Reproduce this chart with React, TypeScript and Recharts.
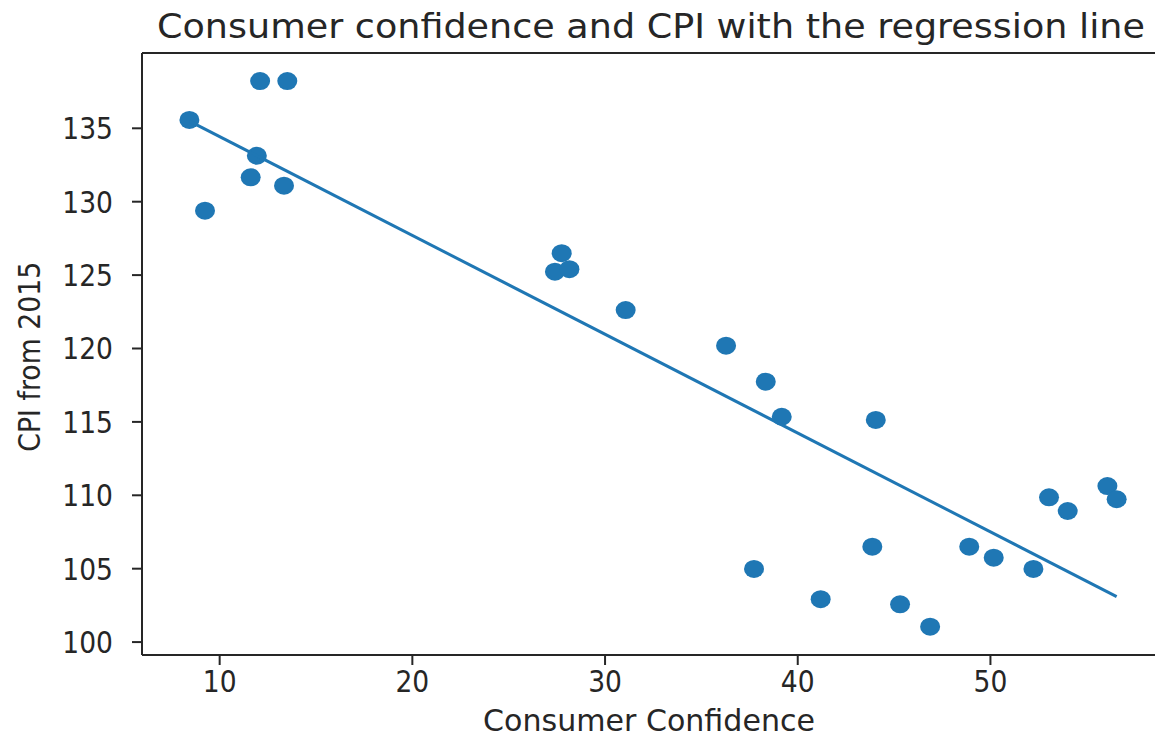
import { ScatterChart, Scatter, XAxis, YAxis, ReferenceLine } from "recharts";

const confidence = [
  8.43, 9.24, 12.1, 13.51, 11.93, 11.61, 13.34, 27.75, 27.4, 28.15, 31.07, 36.28, 38.34, 39.17,
  44.05, 53.04, 54.01, 56.07, 56.55, 43.87, 48.9, 50.17, 52.23, 37.73, 41.19, 45.31, 46.87,
];
const cpi = [
  135.57, 129.39, 138.22, 138.22, 133.13, 131.66, 131.09, 126.49, 125.23, 125.4, 122.62, 120.19,
  117.74, 115.35, 115.13, 109.86, 108.93, 110.63, 109.73, 106.5, 106.5, 105.75, 104.98, 104.98,
  102.92, 102.57, 101.05,
];

// regression line ends
const fitX = [8.43, 56.55];
const fitY = [135.49, 103.1];

const xTicks = [10, 20, 30, 40, 50];
const yTicks = [100, 105, 110, 115, 120, 125, 130, 135];

const X_DOMAIN = [5.97, 58.54];
const Y_DOMAIN = [99.12, 140.13];

const points = confidence.map((x, i) => ({ x, y: cpi[i] }));
const fitLine = fitX.map((x, i) => ({ x, y: fitY[i] }));

const BLUE = "#1f77b4";
const INK = "#262626";
const FONT = "'DejaVu Sans', sans-serif";

const Dot = (props: any) => <ellipse cx={props.cx} cy={props.cy} rx={10} ry={9} fill={BLUE} />;

const XTick = (props: any) => (
  <g transform={`translate(${props.x},${props.y + 22}) scale(0.885,1)`}>
    <text textAnchor="middle" fontSize={30} fontFamily={FONT} fill={INK}>
      {props.payload.value}
    </text>
  </g>
);

const YTick = (props: any) => (
  <g transform={`translate(${props.x},${props.y + 11}) scale(0.885,1)`}>
    <text textAnchor="end" fontSize={30} fontFamily={FONT} fill={INK}>
      {props.payload.value}
    </text>
  </g>
);

export default function App() {
  return (
    <div style={{ position: "absolute", left: 0, top: 0, width: 1155, height: 740, background: "#fff" }}>
      <ScatterChart width={1155} height={740} margin={{ top: 53, right: 0, bottom: 0, left: 0 }}>
        <XAxis
          type="number"
          dataKey="x"
          domain={X_DOMAIN}
          ticks={xTicks}
          height={85}
          tickSize={10}
          tickMargin={5}
          axisLine={{ stroke: INK, strokeWidth: 2 }}
          tickLine={{ stroke: INK, strokeWidth: 2 }}
          tick={<XTick />}
          allowDataOverflow
        />
        <YAxis
          type="number"
          dataKey="y"
          domain={Y_DOMAIN}
          ticks={yTicks}
          width={142}
          tickSize={10}
          tickMargin={19}
          axisLine={{ stroke: INK, strokeWidth: 2 }}
          tickLine={{ stroke: INK, strokeWidth: 2 }}
          tick={<YTick />}
          allowDataOverflow
        />
        {/* top spine */}
        <ReferenceLine y={Y_DOMAIN[1]} stroke={INK} strokeWidth={2} ifOverflow="visible" />
        <Scatter data={points} fill={BLUE} shape={<Dot />} isAnimationActive={false} />
        <Scatter
          data={fitLine}
          line={{ stroke: BLUE, strokeWidth: 3 }}
          shape={() => <g />}
          isAnimationActive={false}
        />
      </ScatterChart>
      <svg
        width={1155}
        height={740}
        style={{ position: "absolute", left: 0, top: 0, pointerEvents: "none" }}
      >
        <text
          x={651}
          y={37.5}
          textAnchor="middle"
          fontSize={33}
          fontFamily={FONT}
          fill={INK}
          textLength={988}
          lengthAdjust="spacingAndGlyphs"
        >
          Consumer confidence and CPI with the regression line
        </text>
        <text
          x={649}
          y={731}
          textAnchor="middle"
          fontSize={31}
          fontFamily={FONT}
          fill={INK}
          textLength={332}
          lengthAdjust="spacingAndGlyphs"
        >
          Consumer Confidence
        </text>
        <text
          transform="translate(40,356.7) rotate(-90)"
          textAnchor="middle"
          fontSize={30}
          fontFamily={FONT}
          fill={INK}
          textLength={190}
          lengthAdjust="spacingAndGlyphs"
        >
          CPI from 2015
        </text>
      </svg>
    </div>
  );
}
